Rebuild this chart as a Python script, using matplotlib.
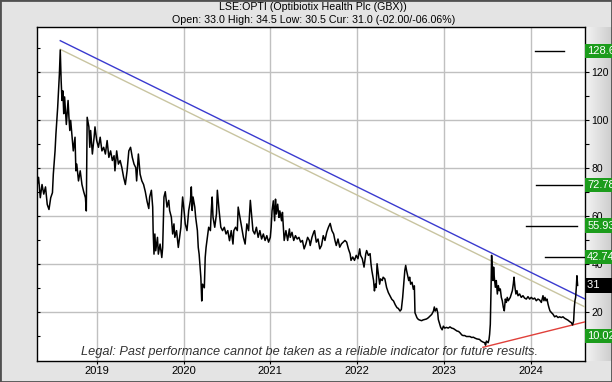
import matplotlib.pyplot as plt
import matplotlib.transforms as mtransforms
import numpy as np
from matplotlib.patches import Rectangle
from matplotlib.colors import LinearSegmentedColormap

plt.rcParams['font.family'] = ['Liberation Sans', 'DejaVu Sans']

# -------------------------- price data (decimal year, GBX) --------------------------
years = [
    2018.31, 2018.33, 2018.35, 2018.37, 2018.39, 2018.41, 2018.43, 2018.45, 2018.47, 2018.49,
    2018.50, 2018.52, 2018.53, 2018.55, 2018.57, 2018.58, 2018.59, 2018.60, 2018.61, 2018.62,
    2018.63, 2018.65, 2018.67, 2018.68, 2018.69, 2018.70, 2018.72, 2018.73, 2018.75, 2018.76,
    2018.77, 2018.79, 2018.81, 2018.83, 2018.85, 2018.87, 2018.88, 2018.89, 2018.91, 2018.92,
    2018.93, 2018.95, 2018.97, 2018.98, 2019.00, 2019.02, 2019.04, 2019.06, 2019.08, 2019.10,
    2019.12, 2019.14, 2019.16, 2019.18, 2019.20, 2019.21, 2019.23, 2019.25, 2019.27, 2019.29,
    2019.31, 2019.33, 2019.35, 2019.37, 2019.39, 2019.41, 2019.43, 2019.45, 2019.46, 2019.48,
    2019.50, 2019.52, 2019.54, 2019.56, 2019.58, 2019.60,
    2019.61, 2019.63, 2019.645, 2019.65, 2019.66, 2019.67, 2019.68, 2019.70, 2019.71, 2019.73,
    2019.75, 2019.76, 2019.775, 2019.79, 2019.81, 2019.83, 2019.84, 2019.86, 2019.875, 2019.89,
    2019.90, 2019.92, 2019.94, 2019.95, 2019.97, 2019.98, 2019.99, 2020.01, 2020.02, 2020.04,
    2020.06, 2020.08, 2020.09, 2020.10, 2020.11, 2020.13, 2020.14, 2020.16, 2020.17, 2020.18,
    2020.20, 2020.21, 2020.22, 2020.24, 2020.25, 2020.26, 2020.27, 2020.29, 2020.31, 2020.32,
    2020.33, 2020.34, 2020.36, 2020.38, 2020.39, 2020.41, 2020.43, 2020.45, 2020.47, 2020.49,
    2020.51, 2020.53, 2020.55, 2020.57, 2020.58, 2020.60, 2020.62, 2020.63, 2020.65, 2020.67,
    2020.69, 2020.71, 2020.73, 2020.75, 2020.77, 2020.79, 2020.80, 2020.82, 2020.84, 2020.86,
    2020.88, 2020.90, 2020.92, 2020.94, 2020.96, 2020.98, 2021.00, 2021.01, 2021.02, 2021.035,
    2021.05, 2021.06, 2021.07, 2021.085, 2021.10, 2021.11, 2021.13, 2021.14, 2021.15, 2021.16,
    2021.18, 2021.20, 2021.22, 2021.23, 2021.25, 2021.27, 2021.29, 2021.31, 2021.33, 2021.35,
    2021.37, 2021.39, 2021.41, 2021.43, 2021.45, 2021.46, 2021.48, 2021.50, 2021.51, 2021.53,
    2021.55, 2021.57, 2021.59, 2021.61, 2021.63, 2021.65, 2021.67, 2021.69, 2021.71, 2021.73,
    2021.745, 2021.76, 2021.78, 2021.80, 2021.82, 2021.84, 2021.86, 2021.88, 2021.90, 2021.92,
    2021.93, 2021.95, 2021.97, 2021.99, 2022.01, 2022.03, 2022.04, 2022.06, 2022.08, 2022.10,
    2022.11, 2022.13,
    2022.15, 2022.16, 2022.17, 2022.19, 2022.20, 2022.21, 2022.22, 2022.23, 2022.245, 2022.26,
    2022.27, 2022.29, 2022.30, 2022.32, 2022.34, 2022.36, 2022.38, 2022.40, 2022.42, 2022.44,
    2022.46, 2022.475, 2022.495, 2022.51, 2022.525, 2022.537, 2022.55, 2022.56, 2022.57, 2022.583,
    2022.595, 2022.606, 2022.617, 2022.633, 2022.648, 2022.66, 2022.663, 2022.667, 2022.69, 2022.706,
    2022.725, 2022.744, 2022.76, 2022.78, 2022.80, 2022.82, 2022.84, 2022.86, 2022.88, 2022.89,
    2022.90, 2022.917, 2022.929, 2022.936, 2022.948, 2022.963, 2022.98, 2022.994, 2023.01, 2023.03,
    2023.05, 2023.07, 2023.09, 2023.11, 2023.13, 2023.15, 2023.17, 2023.19, 2023.205, 2023.22,
    2023.24, 2023.26, 2023.28, 2023.30, 2023.32, 2023.34, 2023.36, 2023.38,
    2023.41, 2023.43, 2023.45, 2023.47, 2023.48, 2023.49, 2023.51, 2023.52, 2023.527, 2023.535,
    2023.539, 2023.543, 2023.547, 2023.55, 2023.558, 2023.566, 2023.573, 2023.581, 2023.593, 2023.604,
    2023.616, 2023.627, 2023.639, 2023.65, 2023.662, 2023.673, 2023.685, 2023.696, 2023.708, 2023.72,
    2023.73, 2023.742, 2023.754, 2023.765, 2023.777, 2023.789, 2023.80, 2023.808, 2023.819, 2023.83,
    2023.842, 2023.854, 2023.873, 2023.892, 2023.911, 2023.93, 2023.95, 2023.969, 2023.988, 2024.007,
    2024.027, 2024.046, 2024.065, 2024.084, 2024.103, 2024.123, 2024.142, 2024.153, 2024.165, 2024.176,
    2024.188, 2024.20, 2024.21, 2024.222, 2024.238, 2024.257, 2024.276, 2024.295, 2024.315, 2024.334,
    2024.353, 2024.372, 2024.391, 2024.41, 2024.43, 2024.45, 2024.468, 2024.483, 2024.495, 2024.503,
    2024.51, 2024.518, 2024.526, 2024.533, 2024.541,
]
prices = [
    72, 76, 67.5, 73, 69, 72, 64.7, 62.6, 67.5, 69.6,
    77.3, 87, 94, 105, 119, 129, 116.5, 108, 112, 102.5,
    109.5, 98, 108, 101, 95.5, 99.7, 91.3, 87, 92.7, 78.7,
    81.5, 74.5, 78.7, 73, 70, 67.5, 62, 101, 97, 88.5,
    95.5, 85.7, 92.7, 97, 91.3, 88.5, 92.7, 87, 88.5, 85.7,
    91.3, 84.3, 87, 83, 85, 78.7, 87, 81.5, 83, 80,
    76, 73, 78.7, 87, 88.5, 84.3, 81.5, 80, 74.5, 85.7,
    77.3, 74.5, 73, 70, 66, 63,
    67.8, 70.6, 63.6, 53.8, 44, 52.4, 45.4, 51, 44, 48.2,
    42.6, 46.8, 67.8, 70, 63.6, 66.4, 62.2, 59.4, 52.4, 56.6,
    51, 53.8, 46.8, 49.6, 55.2, 62.2, 67.8, 60.8, 56.6, 53.8,
    62.2, 66.4, 72, 62.2, 67.8, 63.6, 59.4, 53.8, 46.8, 44,
    34.2, 24.5, 31.5, 30, 42.6, 46.8, 49.6, 55.2, 53.8, 62.2,
    67.8, 59.4, 55.2, 60.8, 70.6, 62.2, 55.2, 53.8, 55.2, 52.4,
    53.8, 49.6, 53.8, 48.2, 53.8, 55.2, 53.8, 63.6, 59.4, 55.2,
    51, 48.2, 56.6, 53.8, 66.4, 58, 53.8, 52.4, 55.2, 51,
    53.8, 50.3, 52.4, 49.7, 51.7, 49, 51, 55.2, 62, 66.2,
    57.9, 66.9, 60.7, 64.8, 59.3, 62, 57.9, 61.4, 55.2, 49.7,
    53.8, 49.7, 54.5, 51, 53.1, 49.7, 51.7, 50.3, 51, 49,
    49.7, 46.2, 48.3, 51, 49.7, 47.6, 51, 53.1, 53.8, 49,
    50.3, 46.2, 47.6, 51.7, 49.7, 53.1, 55.2, 56.8, 53.8, 52.4,
    49.7, 47.6, 50.3, 46.9, 48.3, 49, 49.7, 49, 46.2, 44.1,
    41.4, 42.8, 41.4, 43.5, 42.1, 46.2, 43.5, 42.1, 38.6, 44.1,
    45.5, 43.5,
    44.2, 40, 37.2, 33, 28.7, 31.5, 30.1, 40, 35.8, 31.5,
    33.7, 33, 34.4, 33.7, 30.1, 28, 26.6, 25.2, 24.5, 22.9,
    21.7, 21.4, 20.3, 21, 25.9, 31.5, 37.2, 39.3, 37.2, 35.1,
    33, 34.4, 31.5, 32.3, 29.4, 30.8, 26.6, 19.6, 17.5, 16.8,
    16.5, 16.3, 16.6, 16.8, 17, 17.5, 18.2, 18.9, 20.3, 22,
    20.3, 21.4, 19.6, 16.8, 15.4, 13.5, 12.5, 14, 13.2, 13.5,
    13.2, 13.7, 13.2, 13, 12.5, 12, 11.8, 11.1, 10.4, 10.1,
    10.1, 9.7, 9.7, 9.7, 9.3, 9.4, 9, 8.7,
    8.5, 7.8, 7.4, 7.1, 6.1, 7.8, 7.1, 8.5, 10.6, 14.8,
    21.8, 28.8, 38.6, 43.5, 37.2, 33, 38.6, 34.4, 30.2, 33,
    27.4, 30.9, 28.8, 29.5, 26, 24.6, 21.8, 20.4, 25.3, 23.9,
    26, 24.6, 25.3, 26, 27.4, 28.8, 31.6, 34.4, 30.2, 27.4,
    28.8, 26.7, 27.4, 26, 26.7, 25.7, 25.3, 26.3, 25.3, 26,
    25.3, 25.7, 24.6, 25.3, 24.9, 23.9, 26.7, 24.6, 26, 24.6,
    25.3, 23.2, 21.8, 20.4, 19.7, 19, 17.9, 18.3, 17.6, 17.9,
    17.6, 17.9, 17.3, 16.9, 16.5, 15.9, 15.5, 14.5, 16.2, 21.8,
    24.6, 26, 30.2, 35, 31,
]

# trend lines (start/end)
blue_x, blue_y = [2018.58, 2024.626], [132.9, 25.3]
tan_x, tan_y = [2018.58, 2024.626], [129.3, 22.0]
red_x, red_y = [2023.45, 2024.626], [5.2, 15.8]

# target levels
target_vals = [128.6, 72.78, 55.93, 42.74]
target_start = [2024.05, 2024.06, 2023.95, 2024.165]
target_end = [2024.38, 2024.59, 2024.53, 2024.615]
label_vals = [128.6, 72.78, 55.93, 42.74, 10.02]
label_text = ['128.63', '72.78', '55.93', '42.74', '10.02']
current = 31.0

year_ticks = [2019, 2020, 2021, 2022, 2023, 2024]
y_ticks = [20, 40, 60, 80, 100, 120]

# -------------------------- figure --------------------------
W, H = 612, 382
fig = plt.figure(figsize=(W / 100, H / 100), dpi=100, facecolor='#e4e4e4')
ax = fig.add_axes([37 / W, 1 - 361 / H, (585 - 37) / W, (361 - 27) / H])
ax.set_facecolor('white')

# right hand gradient panel
pan = fig.add_axes([585 / W, 1 - 361 / H, 27 / W, (361 - 27) / H], zorder=-1)
cm = LinearSegmentedColormap.from_list('pn', ['#f4f4f4', '#cdcdcd'])
pan.imshow(np.linspace(0, 1, 50).reshape(1, -1), aspect='auto', cmap=cm, extent=[0, 1, 0, 1])
pan.axis('off')

ax.set_xlim(2018.312, 2024.626)
ax.set_ylim(-0.5, 138.6)

ax.grid(True, color='#c0c0c0', linewidth=1, zorder=0)
ax.set_xticks(year_ticks)
ax.set_xticklabels([str(y) for y in year_ticks], fontsize=8)
ax.tick_params(axis='x', length=2, pad=1.5)
ax.set_yticks(y_ticks)
ax.set_yticks(np.arange(10, 140, 10), minor=True)
ax.tick_params(axis='y', which='both', direction='in', left=True, right=False,
               labelleft=False, length=2.5, width=0.8)

sec = ax.secondary_yaxis('right')
sec.set_yticks(y_ticks)
sec.set_yticks(np.arange(10, 140, 10), minor=True)
sec.tick_params(axis='y', which='both', direction='out', length=3, width=0.8, labelsize=7.5, pad=1.5)

for sp in ax.spines.values():
    sp.set_linewidth(1)
sec.spines['right'].set_visible(False)

ax.plot(blue_x, blue_y, color='#3a3acf', linewidth=1, zorder=3)
ax.plot(tan_x, tan_y, color='#c8c4a0', linewidth=1, zorder=3)
ax.plot(red_x, red_y, color='#e0403a', linewidth=1, zorder=3)
ax.plot(years, prices, color='black', linewidth=1.1, zorder=4)

for v, s, e in zip(target_vals, target_start, target_end):
    ax.plot([s, e], [v, v], color='black', linewidth=1, zorder=4, clip_on=False)

tr = mtransforms.blended_transform_factory(ax.transAxes, ax.transData)
for v, t in zip(label_vals, label_text):
    fig.text(1.004, v, t, transform=tr, ha='left', va='center', color='white', fontsize=8,
             bbox=dict(boxstyle='square,pad=0.2', fc='#1c9c1c', ec='none'), zorder=5)
fig.text(1.004, current, '31' + ' ' * 5, transform=tr, ha='left', va='center', color='white',
         fontsize=8, bbox=dict(boxstyle='square,pad=0.2', fc='black', ec='none'), zorder=5)

ax.text(0.497, 0.028, 'Legal: Past performance cannot be taken as a reliable indicator for future results.',
        transform=ax.transAxes, ha='center', va='center', fontsize=9.2, style='italic',
        color='#333333', zorder=6)

fig.text(0.512, 1 - 7.5 / H, 'LSE:OPTI (Optibiotix Health Plc (GBX))', ha='center', va='center', fontsize=7.7)
fig.text(0.512, 1 - 20 / H, 'Open: 33.0 High: 34.5 Low: 30.5 Cur: 31.0 (-02.00/-06.06%)',
         ha='center', va='center', fontsize=7.7)

fig.patches.append(Rectangle((0, 0), 1, 1, transform=fig.transFigure, fill=False,
                             edgecolor='#505050', linewidth=2))

fig.savefig('out.png', dpi=100, facecolor=fig.get_facecolor())
